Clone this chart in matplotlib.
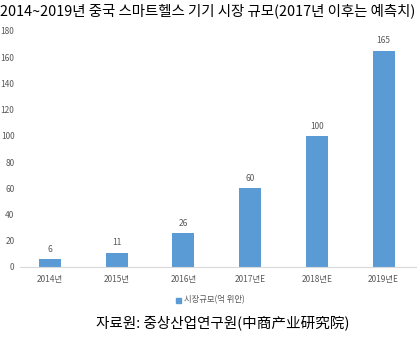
import matplotlib.pyplot as plt
from matplotlib.patches import Rectangle

plt.rcParams['font.family'] = ['Noto Sans CJK KR', 'DejaVu Sans']

# 연도별 시장 규모 (억 위안)
years = ['2014년', '2015년', '2016년', '2017년E', '2018년E', '2019년E']
market_size = [6, 11, 26, 60, 100, 165]
yticks = [0, 20, 40, 60, 80, 100, 120, 140, 160, 180]

bar_color = '#5B9BD5'
text_gray = '#595959'

fig = plt.figure(figsize=(4.17, 3.39), dpi=100)
ax = fig.add_axes([20 / 417, 72 / 339, 397 / 417, 236 / 339])

x = range(len(years))
ax.bar(x, market_size, width=0.33, color=bar_color, zorder=2)
for xi, v in zip(x, market_size):
    ax.text(xi, v + 4, str(v), ha='center', va='bottom', fontsize=6, color=text_gray)

ax.set_xlim(-0.45, 5.5)
ax.set_ylim(0, 180)
ax.set_yticks(yticks)
ax.set_xticks(list(x))
ax.set_xticklabels(years)
ax.tick_params(axis='both', length=0, labelsize=6, labelcolor=text_gray)
ax.tick_params(axis='x', pad=6)
ax.tick_params(axis='y', pad=4)
for side in ['top', 'right', 'left']:
    ax.spines[side].set_visible(False)
ax.spines['bottom'].set_color('#d9d9d9')
ax.patch.set_alpha(0)

# 제목
fig.text(0.0, 1 - 11 / 339, '2014~2019년 중국 스마트헬스 기기 시장 규모(2017년 이후는 예측치)',
         ha='left', va='center', fontsize=10.4, color='black')

# 범례
fig.patches.append(Rectangle((176 / 417, 1 - 303 / 339), 5 / 417, 5 / 339,
                             transform=fig.transFigure, color=bar_color))
fig.text(184 / 417, 1 - 300 / 339, '시장규모(억 위안)', ha='left', va='center',
         fontsize=6, color=text_gray)

# 출처
fig.text(223 / 417, 1 - 323 / 339, '자료원: 중상산업연구원(中商产业研究院)',
         ha='center', va='center', fontsize=10.5, color='black')

fig.savefig('out.png', dpi=100)
